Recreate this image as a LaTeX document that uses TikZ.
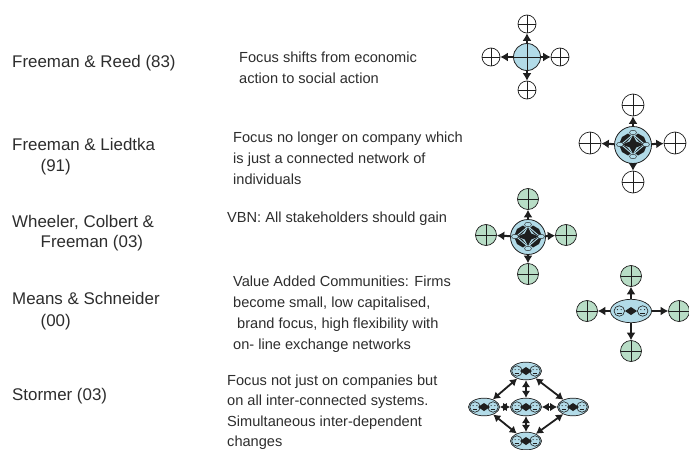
\documentclass[tikz,border=0pt]{standalone}
\usepackage{fontspec}
\setmainfont{Liberation Sans}
\usetikzlibrary{arrows.meta,shapes.geometric}
\definecolor{hub}{RGB}{178,219,232}
\definecolor{sat}{RGB}{184,221,198}
\definecolor{ink}{RGB}{30,30,30}
\definecolor{txt}{RGB}{45,45,45}
\tikzset{
 x=1pt,y=-1pt,
 whois/.style={anchor=north west,inner sep=0pt,align=left,font=\fontsize{16.9}{20.5}\selectfont,text=txt},
 about/.style={anchor=north west,inner sep=0pt,align=left,font=\fontsize{14.6}{21.2}\selectfont,text=txt},
 satbase/.style={circle,draw=ink,line width=0.7pt,inner sep=0pt,minimum size=#1,
   path picture={\draw[ink,line width=0.6pt] (path picture bounding box.north)--(path picture bounding box.south)
     (path picture bounding box.west)--(path picture bounding box.east);}},
 plain/.style={satbase=#1,fill=white},
 green/.style={satbase=#1,fill=sat},
 hubc/.style={circle,draw=ink,line width=0.8pt,fill=hub,inner sep=0pt,minimum size=#1},
 hube/.style={ellipse,draw=ink,line width=0.7pt,fill=hub,inner sep=0pt,minimum width=#1,minimum height=#1*0.57},
 link/.style={draw=ink,line width=2pt,-{Latex[length=7.5pt,width=9pt]}},
 dlink/.style={draw=ink,line width=1.8pt,{Latex[length=7pt,width=8.5pt]}-{Latex[length=7pt,width=8.5pt]}},
 face/.style={circle,draw=ink,line width=0.6pt,fill=hub,inner sep=0pt,minimum size=#1},
 tinyhub/.style={ellipse,draw=ink,line width=0.4pt,fill=hub,inner sep=0pt,minimum width=7pt,minimum height=4.5pt},
}
% two faces with a double arrow, centred on the given point
\newcommand{\faces}[4]{% name, x, y, half distance
 \node[face=10.5pt] (#1a) at (#2-#4,#3) {};
 \node[face=10.5pt] (#1b) at (#2+#4,#3) {};
 \fill[ink] (#2-#4-1.9,#3-1.4) circle (0.6) (#2-#4+1.9,#3-1.4) circle (0.6)
            (#2+#4-1.9,#3-1.4) circle (0.6) (#2+#4+1.9,#3-1.4) circle (0.6);
 \draw[ink,line width=0.5pt] (#2-#4-2.4,#3+1.8)--(#2-#4+2.4,#3+1.8) (#2+#4-2.4,#3+1.8)--(#2+#4+2.4,#3+1.8);
 \fill[ink] (#2-6,#3)--(#2,#3-4)--(#2+6,#3)--(#2,#3+4)--cycle;
}
% the dense network inside a hub
\newcommand{\mininet}[3]{% name, x, y
 \fill[ink] (#2-14,#3) -- (#2-11,#3-7.5) -- (#2-5,#3-11) -- (#2,#3-7) -- (#2+5,#3-11) -- (#2+11,#3-7.5) -- (#2+14,#3)
   -- (#2+11,#3+7.5) -- (#2+5,#3+11) -- (#2,#3+7) -- (#2-5,#3+11) -- (#2-11,#3+7.5) -- cycle;
 \draw[hub,line width=0.9pt] (#2-12,#3)--(#2,#3-10)--(#2+12,#3)--(#2,#3+10)--cycle;
 \fill[hub] (#2-11,#3)--(#2-6,#3-2.5)--(#2,#3-9.5)--(#2+6,#3-2.5)--(#2+11,#3)--(#2+6,#3+2.5)--(#2,#3+9.5)--(#2-6,#3+2.5)--cycle;
 \fill[ink] (#2-11,#3) -- (#2-3.2,#3-3) -- (#2,#3-9.5) -- (#2+3.2,#3-3) -- (#2+11,#3) -- (#2+3.2,#3+3) -- (#2,#3+9.5) -- (#2-3.2,#3+3) -- cycle;
 \node[tinyhub] (#1n) at (#2,#3-12) {};
 \node[tinyhub] (#1s) at (#2,#3+12) {};
 \node[tinyhub] (#1w) at (#2-13,#3) {};
 \node[tinyhub] (#1e) at (#2+13,#3) {};
}
\begin{document}
\begin{tikzpicture}
\useasboundingbox (0,0) rectangle (689,450);
\clip (0,0) rectangle (689,450);
% left column
\node[whois] (w1) at (12,54.7) {Freeman \& Reed (83)};
\node[whois] (w2) at (12,138.4) {Freeman \& Liedtka\\\hspace*{28.5pt}(91)};
\node[whois] (w3) at (12,214.7) {Wheeler, Colbert \&\\\hspace*{28.5pt}Freeman (03)};
\node[whois] (w4) at (12,291.7) {Means \& Schneider\\[2pt]\hspace*{28.5pt}(00)};
\node[whois] (w5) at (12,387.7) {Stormer (03)};
% middle column
\node[about] (t1) at (239,51.4) {Focus shifts from economic\\action to social action};
\node[about] (t2) at (233,131.4) {Focus no longer on company which\\is just a connected network of\\individuals};
\node[about] (t3) at (227,211.4) {VBN: All stakeholders should gain};
\node[about] (t4) at (233,275.4) {Value Added Communities: Firms\\become small, low capitalised,\\\hspace*{4pt}brand focus, high flexibility with\\on- line exchange networks};
\node[about,font=\fontsize{14.6}{20.6}\selectfont] (t5) at (227,374.4) {Focus not just on companies but\\on all inter-connected systems.\\Simultaneous inter-dependent\\changes};
% diagram 1
\node[hubc=27pt] (a0) at (527,57) {};
\draw[ink,line width=0.5pt] (a0.north)--(a0.south) (a0.west)--(a0.east);
\node[plain=18pt] (a1) at (527,24) {};
\node[plain=18pt] (a2) at (491,57) {};
\node[plain=18pt] (a3) at (560,57) {};
\node[plain=18pt] (a4) at (527,90) {};
\foreach \k in {1,...,4} \draw[link] (a0) -- (a\k);
% diagram 2
\node[hubc=37pt] (b0) at (633,145) {};
\mininet{bm}{633}{144.5}
\node[plain=22pt] (b1) at (633,105) {};
\node[plain=22pt] (b2) at (590,143) {};
\node[plain=22pt] (b3) at (675,143) {};
\node[plain=22pt] (b4) at (633,182) {};
\foreach \k in {1,...,4} \draw[link] (b0) -- (b\k);
% diagram 3
\node[hubc=35pt] (c0) at (528,237) {};
\mininet{cm}{528}{236.5}
\node[green=21pt] (c1) at (528,199) {};
\node[green=21pt] (c2) at (486,235) {};
\node[green=21pt] (c3) at (566,235) {};
\node[green=21pt] (c4) at (528,274) {};
\foreach \k in {1,...,4} \draw[link] (c0) -- (c\k);
% diagram 4
\node[hube=41pt] (d0) at (631,311) {};
\faces{dm}{631}{311}{11.7}
\node[green=21pt] (d1) at (631,276) {};
\node[green=21pt] (d2) at (587,311) {};
\node[green=21pt] (d3) at (679,311) {};
\node[green=21pt] (d4) at (631,351) {};
\foreach \k in {1,...,4} \draw[link] (d0) -- (d\k);
% diagram 5
\node[hube=31pt] (e1) at (526,371) {};
\node[hube=31pt] (e2) at (484,407) {};
\node[hube=31pt] (e3) at (526,407) {};
\node[hube=31pt] (e4) at (573,407) {};
\node[hube=31pt] (e5) at (526,441) {};
\faces{f1}{526}{371}{9}
\faces{f2}{484}{407}{9}
\faces{f3}{526}{407}{9}
\faces{f4}{573}{407}{9}
\faces{f5}{526}{441}{9}
\draw[dlink] (e1) -- (e2);
\draw[dlink] (e1) -- (e3);
\draw[dlink] (e1) -- (e4);
\draw[dlink] (e2) -- (e3);
\draw[dlink] (e3) -- (e4);
\draw[dlink] (e2) -- (e5);
\draw[dlink] (e3) -- (e5);
\draw[dlink] (e4) -- (e5);
\end{tikzpicture}
\end{document}
